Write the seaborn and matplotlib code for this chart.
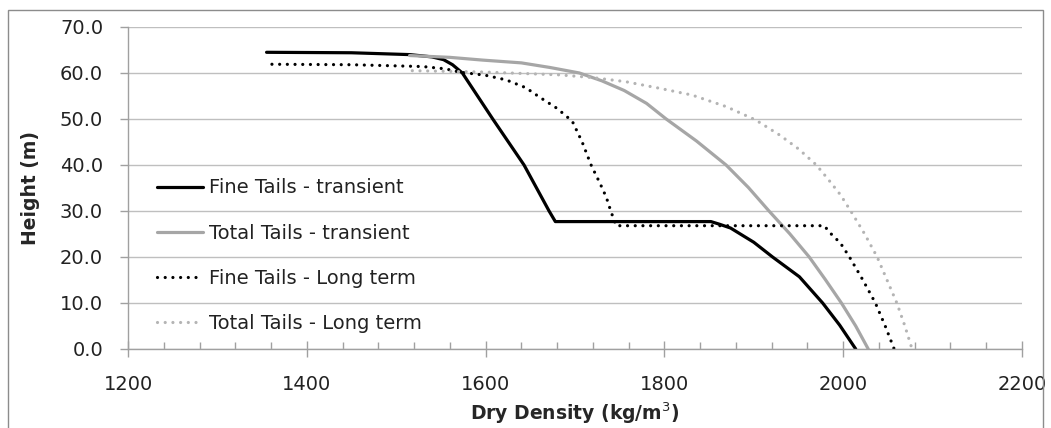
import matplotlib
matplotlib.use("Agg")
import matplotlib.pyplot as plt
from matplotlib.patches import Rectangle
from matplotlib.ticker import MultipleLocator, FormatStrFormatter
import seaborn as sns

# Dry density (kg/m3) vs height (m)
fine_transient_x = [1355, 1450, 1515, 1540, 1553, 1563, 1574, 1608, 1643, 1671, 1678,
                    1760, 1852, 1862, 1874, 1900, 1921, 1951, 1977, 1996, 2014]
fine_transient_y = [64.5, 64.4, 64.0, 63.5, 62.9, 61.8, 60.0, 50.0, 40.0, 30.0, 27.7,
                    27.7, 27.7, 27.1, 26.3, 23.2, 20.0, 15.7, 10.0, 5.2, 0.0]

total_transient_x = [1515, 1560, 1597, 1640, 1672, 1705, 1730, 1755, 1780, 1802,
                     1836, 1869, 1894, 1917, 1940, 1962, 1980, 1998, 2014, 2028]
total_transient_y = [63.8, 63.4, 62.8, 62.2, 61.2, 60.0, 58.3, 56.2, 53.4, 50.0,
                     45.2, 40.0, 35.1, 30.0, 25.1, 20.0, 15.1, 10.0, 5.0, 0.0]

fine_longterm_x = [1361, 1450, 1530, 1555, 1571, 1600, 1623, 1645, 1660, 1680,
                   1697, 1708, 1718, 1728, 1735, 1740, 1746, 1850, 1979, 1984,
                   1997, 2007, 2022, 2036, 2047, 2057]
fine_longterm_y = [61.9, 61.8, 61.4, 60.9, 60.2, 59.5, 58.5, 56.8, 54.8, 52.3,
                   49.5, 45.0, 40.0, 36.0, 33.0, 30.0, 26.8, 26.8, 26.8, 25.5,
                   23.0, 20.0, 15.0, 10.0, 5.0, 0.0]

total_longterm_x = [1518, 1600, 1682, 1720, 1757, 1794, 1831, 1869, 1902, 1929,
                    1950, 1970, 1984, 1997, 2010, 2024, 2038, 2060, 2069, 2077]
total_longterm_y = [60.5, 60.2, 59.6, 59.0, 58.1, 56.7, 55.2, 52.7, 49.8, 46.5,
                    43.5, 40.0, 36.7, 33.5, 29.5, 25.0, 20.0, 10.0, 5.0, 0.0]

labels = ["Fine Tails - transient", "Total Tails - transient",
          "Fine Tails - Long term", "Total Tails - Long term"]

sns.set_theme(style="white")
plt.rcParams["font.family"] = ["DejaVu Sans"]

fig = plt.figure(figsize=(10.51, 4.28), dpi=100)
ax = fig.add_axes([128 / 1051, 1 - 349 / 428, 894 / 1051, 322 / 428])

dots = (0, (0.01, 2.4))
series = [
    (fine_transient_x, fine_transient_y, "black", "-"),
    (total_transient_x, total_transient_y, "#a6a6a6", "-"),
    (fine_longterm_x, fine_longterm_y, "black", dots),
    (total_longterm_x, total_longterm_y, "#b4b4b4", dots),
]
for (xs, ys, col, ls), lab in zip(series, labels):
    sns.lineplot(x=xs, y=ys, ax=ax, color=col, linewidth=2.3,
                 sort=False, estimator=None, label=lab)
    ln = ax.lines[-1]
    ln.set_linestyle(ls)
    ln.set_dash_capstyle("round")
    ln.set_solid_joinstyle("round")

ax.set_xlim(1200, 2200)
ax.set_ylim(0, 70)
ax.xaxis.set_major_locator(MultipleLocator(200))
ax.xaxis.set_minor_locator(MultipleLocator(40))
ax.yaxis.set_major_locator(MultipleLocator(10))
ax.yaxis.set_major_formatter(FormatStrFormatter("%.1f"))

ax.grid(axis="y", color="#bfbfbf", linewidth=1)
ax.grid(axis="x", visible=False)
for s in ["top", "right"]:
    ax.spines[s].set_visible(False)
for s in ["left", "bottom"]:
    ax.spines[s].set_color("#a0a0a0")
    ax.spines[s].set_linewidth(1)

ax.tick_params(axis="x", which="major", direction="inout", length=11,
               width=1, color="#a0a0a0", bottom=True, pad=13,
               labelsize=14, labelcolor="#222222")
ax.tick_params(axis="x", which="minor", direction="in", length=5,
               width=1, color="#a0a0a0", bottom=True)
ax.tick_params(axis="y", which="major", direction="out", length=6,
               width=1, color="#a0a0a0", left=True, pad=12,
               labelsize=14, labelcolor="#222222")

ax.set_xlabel("Dry Density (kg/m$^3$)", fontsize=13.5, fontweight="bold",
              labelpad=5)
ax.set_ylabel("Height (m)", fontsize=13.5, fontweight="bold", labelpad=14)

leg = ax.legend(loc="upper left", bbox_to_anchor=(0.032, 0.53),
                frameon=False, fontsize=14, handlelength=2.4,
                handletextpad=0.3, labelspacing=1.35, borderaxespad=0,
                borderpad=0)
for t in leg.get_texts():
    t.set_color("#222222")

fig.add_artist(Rectangle((8 / 1051, -0.05), 1035 / 1051, 1.05 - 10 / 428,
                         transform=fig.transFigure, fill=False,
                         edgecolor="#8c8c8c", linewidth=1))

fig.savefig("out.png", dpi=100)
